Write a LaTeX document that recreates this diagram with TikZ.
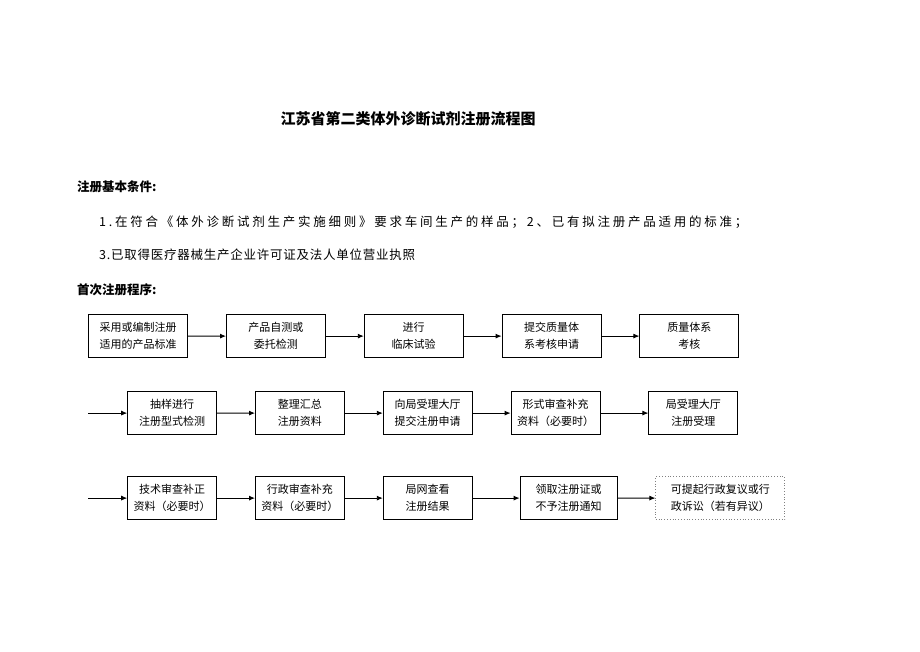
\documentclass[tikz,border=0pt]{standalone}
\usepackage{fontspec}
\setmainfont{Noto Sans CJK SC}
\usetikzlibrary{matrix,positioning,arrows.meta}

% two centred lines of text inside a box of given width
\newcommand{\twolines}[3]{\parbox{#1}{\centering #2\\#3}}

\begin{document}
\begin{tikzpicture}[
     x=1pt, y=-1pt,
     % define styles
     procbox/.style={
         draw,
         line width=0.8pt,
         minimum height=43pt,
         inner sep=0pt,
         font=\fontsize{11}{17}\selectfont
     },
     maybebox/.style={
         draw=gray,
         dotted
     },
     flow/.style={
         matrix of nodes,
         nodes={procbox},
         column sep=38pt,
         inner sep=0pt,
         anchor=north west
     },
     heading/.style={
         anchor=west,
         inner sep=0pt,
         font=\fontsize{12.5}{12.5}\selectfont\bfseries
     },
     item/.style={
         anchor=west,
         inner sep=0pt,
         font=\fontsize{12.5}{12.5}\selectfont
     },
     >={Latex[length=6pt,width=5pt]}
]
\useasboundingbox (0,0) rectangle (920,651);

% title and conditions
\node[font=\fontsize{15}{15}\selectfont\bfseries] (title) at (408,119) {江苏省第二类体外诊断试剂注册流程图};
\node[heading] (cond) at (77,187) {注册基本条件:};
\node[item] (item1) at (99,222) {\addfontfeatures{LetterSpace=22}1.在符合《体外诊断试剂生产实施细则》要求车间生产的样品；2、已有拟注册产品适用的标准；};
\node[item] (item3) at (99,255) {\addfontfeatures{LetterSpace=6}3.已取得医疗器械生产企业许可证及法人单位营业执照};
\node[heading] (proc) at (77,290) {首次注册程序:};

% first row
\matrix[flow] (r1) at (88,314)
{
\twolines{99pt}{采用或编制注册}{适用的产品标准} & \twolines{99pt}{产品自测或}{委托检测} & \twolines{99pt}{进行}{临床试验} & \twolines{99pt}{提交质量体}{系考核申请} & \twolines{99pt}{质量体系}{考核} \\
};

% second row
\matrix[flow] (r2) at (127,391)
{
\twolines{89pt}{抽样进行}{注册型式检测} & \twolines{89pt}{整理汇总}{注册资料} & \twolines{89pt}{向局受理大厅}{提交注册申请} & \twolines{89pt}{形式审查补充}{资料（必要时）} &[10pt] \twolines{89pt}{局受理大厅}{注册受理} \\
};

% third row
\matrix[flow] (r3) at (127,476)
{
\twolines{89pt}{技术审查补正}{资料（必要时）} & \twolines{89pt}{行政审查补充}{资料（必要时）} & \twolines{89pt}{局网查看}{注册结果} &[9pt] \twolines{97pt}{领取注册证或}{不予注册通知} & |[maybebox]| \twolines{129pt}{可提起行政复议或行}{政诉讼（若有异议）} \\
};

% connectors
\foreach \r in {1,2,3}
  \foreach \c/\n in {1/2,2/3,3/4,4/5}
    \draw[->, line width=0.9pt] (r\r-1-\c) -- (r\r-1-\n);
\foreach \r in {2,3} {
  \coordinate (in\r) at ([xshift=-39pt]r\r-1-1.west);
  \draw[->, line width=0.9pt] (in\r) -- (r\r-1-1);
}
\end{tikzpicture}
\end{document}
